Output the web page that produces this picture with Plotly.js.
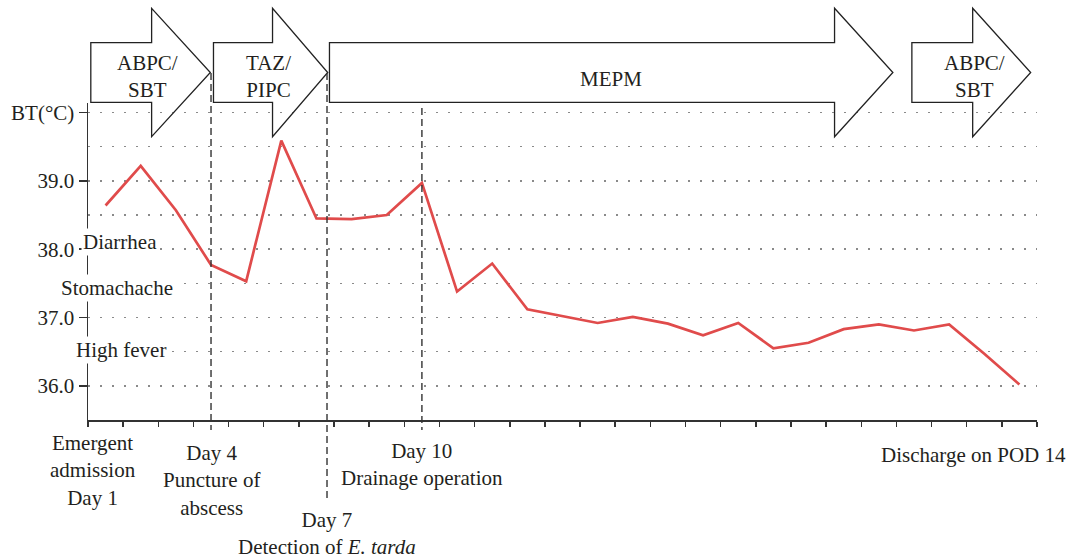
<!DOCTYPE html>
<html>
<head>
<meta charset="utf-8">
<script src="https://cdn.plot.ly/plotly-3.0.1.min.js"></script>
<style>html,body{margin:0;padding:0;background:#fff;}#chart{width:1069px;height:558px;}</style>
</head>
<body>
<div id="chart"></div>
<script>
// ---- data ----
const timePoints = [1,2,3,4,5,6,7,8,9,10,11,12,13,14,15,16,17,18,19,20,21,22,23,24,25,26,27];
const bodyTemp = [38.64, 39.22, 38.57, 37.77, 37.53, 39.59, 38.45, 38.44, 38.50, 38.97,
                  37.38, 37.79, 37.12, 37.02, 36.92, 37.01, 36.91, 36.74, 36.92, 36.55,
                  36.63, 36.83, 36.90, 36.81, 36.90, 36.47, 36.02];
const yTickVals = [36, 37, 38, 39, 40];
const yTickText = ['36.0', '37.0', '38.0', '39.0', 'BT(°C)'];
const symptomLabels = ['Diarrhea', 'Stomachache', 'High fever'];
const symptomLevels = [38.1, 37.43, 36.53];
const eventLabels = ['Emergent<br>admission<br>Day 1', 'Day 4<br>Puncture of<br>abscess',
                     'Day 7<br>Detection of <i>E. tarda</i>', 'Day 10<br>Drainage operation',
                     'Discharge on POD 14'];
const eventMarkers = [4, 7.3, 10];        // dashed event lines (x positions)
const drugLabels = ['ABPC/<br>SBT', 'TAZ/<br>PIPC', 'MEPM', 'ABPC/<br>SBT'];
const drugStart = [0.58, 4.07, 7.37, 23.94];
const drugEnd = [3.98, 7.32, 23.40, 27.32];

// ---- layout helpers ----
const FONT = '"Liberation Serif", "Times New Roman", serif';
const FS = 21;
const TXT = '#231f20';
const plotTop = 103, plotBottom = 420, plotH = plotBottom - plotTop;
const py = p => (plotBottom - p) / plotH;   // pixel row -> paper y

const shapes = [];
// drug arrows (outline only)
const headLen = [1.67, 1.57, 1.66, 1.65];
drugStart.forEach((s, i) => {
  const e = drugEnd[i], h = e - headLen[i];
  const bt = py(42.7), bb = py(102.3), ht = py(8.3), hb = py(136.7), tip = py(72.5);
  shapes.push({
    type: 'path', xref: 'x', yref: 'paper',
    path: `M ${s} ${bt} L ${h} ${bt} L ${h} ${ht} L ${e} ${tip} L ${h} ${hb} L ${h} ${bb} L ${s} ${bb} Z`,
    line: {color: '#222', width: 1.3}, fillcolor: 'rgba(0,0,0,0)', layer: 'above'
  });
});
// dashed event lines
const dashTop = [py(73), py(73), py(108)];
const dashBot = [py(430), py(498), py(430)];
eventMarkers.forEach((x, i) => {
  shapes.push({
    type: 'line', xref: 'x', yref: 'paper', x0: x, x1: x, y0: dashTop[i], y1: dashBot[i],
    line: {color: '#333', width: 1.4, dash: '7px,4px'}, layer: 'above'
  });
});

const annotations = [];
// drug labels
const drugLabelX = [2.18, 5.63, 15.37, 25.72];
const drugLabelY = [py(76), py(76), py(79), py(76)];
drugLabels.forEach((t, i) => annotations.push({
  text: t, xref: 'x', yref: 'paper', x: drugLabelX[i], y: drugLabelY[i],
  showarrow: false, xanchor: 'center', yanchor: 'middle', align: 'center',
  font: {family: FONT, size: FS, color: TXT}
}));
// symptom labels (white background hides axis line and grid)
const symptomX = [1.42, 1.32, 1.45];
symptomLabels.forEach((t, i) => annotations.push({
  text: t, xref: 'x', yref: 'y', x: symptomX[i], y: symptomLevels[i],
  showarrow: false, xanchor: 'center', yanchor: 'middle', bgcolor: '#fff', borderpad: 1,
  font: {family: FONT, size: FS, color: TXT}
}));
// event labels under axis
const eventX = [0.65, 4, 7.3, 10, 25.69];
const eventY = [py(470.5), py(480), py(533.7), py(464.7), py(455)];
eventLabels.forEach((t, i) => annotations.push({
  text: t, xref: 'x', yref: 'paper', x: eventX[i], y: eventY[i],
  showarrow: false, xanchor: 'center', yanchor: 'middle', align: 'center',
  font: {family: FONT, size: FS, color: TXT}
}));

const xTickVals = [];
for (let i = 0; i <= timePoints.length; i++) xTickVals.push(timePoints[0] - 0.5 + i);

const trace = {
  x: timePoints, y: bodyTemp, type: 'scatter', mode: 'lines',
  line: {color: '#e04b4b', width: 2.7}, hoverinfo: 'skip', cliponaxis: false
};

const layout = {
  width: 1069, height: 558,
  margin: {l: 88, r: 32, t: plotTop, b: 558 - plotBottom, pad: 0},
  paper_bgcolor: '#fff', plot_bgcolor: '#fff',
  showlegend: false,
  font: {family: FONT, size: FS, color: TXT},
  xaxis: {
    range: [0.5, 27.5], showgrid: false, zeroline: false,
    showline: true, linecolor: '#333', linewidth: 1.5,
    tickmode: 'array', tickvals: xTickVals, showticklabels: false,
    ticks: 'outside', ticklen: 5, tickwidth: 1.5, tickcolor: '#333'
  },
  yaxis: {
    range: [35.5, 40.14], zeroline: false,
    showline: true, linecolor: '#333', linewidth: 1.5,
    tickmode: 'array', tickvals: yTickVals, ticktext: yTickText,
    ticks: 'outside', ticklen: 8, tickwidth: 1.5, tickcolor: '#333',
    tickfont: {family: FONT, size: FS, color: TXT},
    showgrid: true, gridcolor: '#8a8a8a', gridwidth: 1.5, griddash: '1.5px,10.5px',
    minor: {tickmode: 'array', tickvals: [36.5, 37.5, 38.5, 39.5], showgrid: true,
            gridcolor: '#8a8a8a', gridwidth: 1.5, griddash: '1.5px,10.5px', ticks: ''}
  },
  shapes: shapes,
  annotations: annotations
};

Plotly.newPlot('chart', [trace], layout, {staticPlot: true, displayModeBar: false});
</script>
</body>
</html>
